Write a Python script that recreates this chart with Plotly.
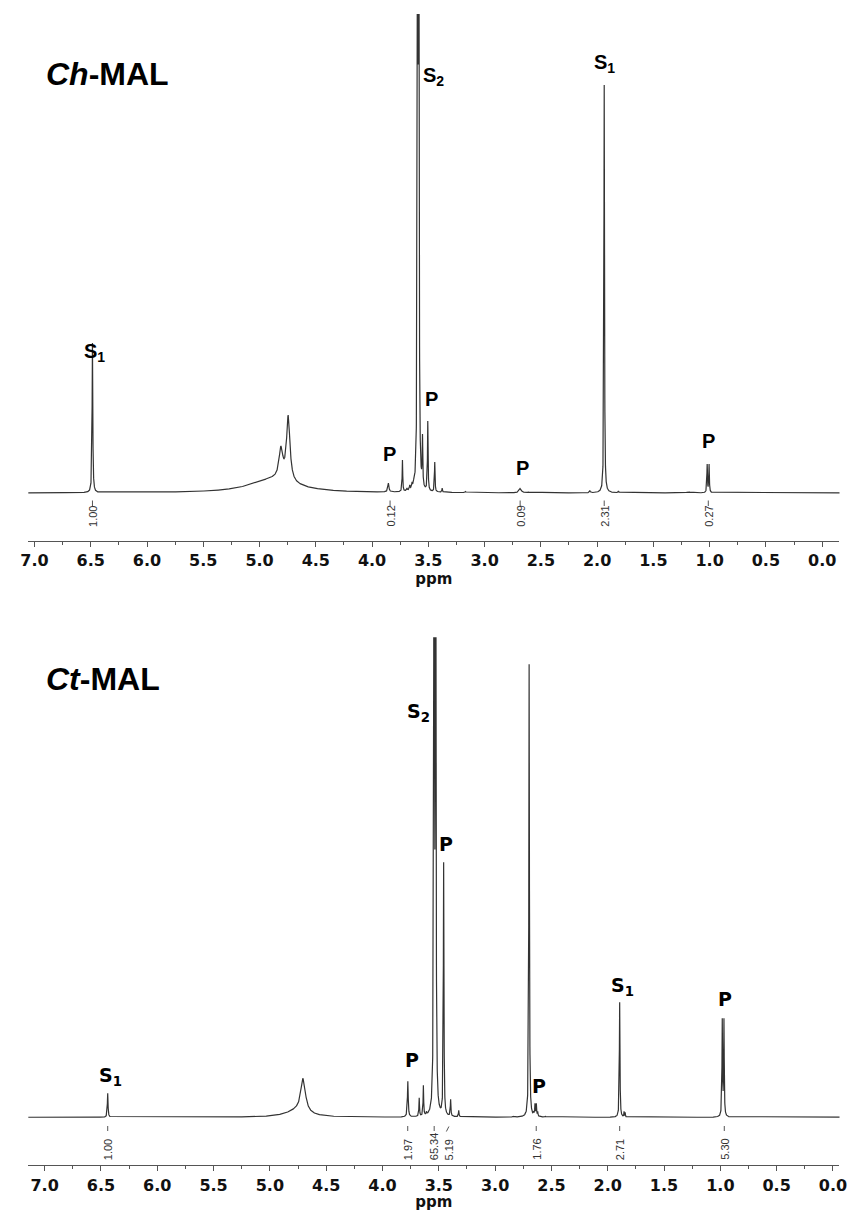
import numpy as np
import plotly.graph_objects as go

# ---------------- data ----------------
# Ch-MAL spectrum: peak positions (ppm), apex heights (arb.), half-widths (ppm)
ch_ppm = [6.485, 4.88, 4.81, 4.745, 3.855, 3.73, 3.69, 3.665, 3.645, 3.63,
          3.595, 3.585, 3.552, 3.505, 3.443, 3.377, 3.17, 2.684, 2.61, 2.065,
          1.937, 1.81, 1.24, 1.18, 1.022, 1.005]
ch_height = [150, 17, 47, 78, 10, 33, 5, 8, 11, 14,
             900, 850, 59, 72, 31, 5, 1.5, 4.5, 1, 2.5,
             408, 2, 1, 1, 29, 29]
ch_width = [0.0035, 0.25, 0.02, 0.018, 0.006, 0.003, 0.004, 0.004, 0.004, 0.004,
            0.003, 0.003, 0.003, 0.003, 0.003, 0.003, 0.005, 0.012, 0.008, 0.004,
            0.003, 0.004, 0.02, 0.02, 0.003, 0.003]

# Ct-MAL spectrum
ct_ppm = [6.44, 4.76, 4.705, 3.775, 3.674, 3.637, 3.61, 3.542, 3.528, 3.457,
          3.395, 3.323, 2.84, 2.698, 2.658, 2.646, 2.634, 2.622, 2.553, 1.894,
          1.855, 1.845, 0.983, 0.968]
ct_height = [24, 12, 39, 36, 19.6, 32, 6, 900, 900, 255,
             18, 7, 1, 453, 6, 14, 14, 6, 1, 115,
             6, 5, 99, 99]
ct_width = [0.0035, 0.12, 0.025, 0.004, 0.003, 0.003, 0.003, 0.003, 0.003, 0.003,
            0.003, 0.003, 0.005, 0.003, 0.003, 0.003, 0.003, 0.003, 0.005, 0.003,
            0.002, 0.002, 0.003, 0.003]

# integration labels (position ppm, value text)
ch_int_ppm = [6.485, 3.84, 2.684, 1.937, 1.012]
ch_int_txt = ["1.00", "0.12", "0.09", "2.31", "0.27"]
ct_int_ppm = [6.44, 3.776, 3.541, 3.41, 2.635, 1.894, 0.965]
ct_int_txt = ["1.00", "1.97", "65.34", "5.19", "1.76", "2.71", "5.30"]

# peak assignment labels
ch_labels = ["S<sub>1</sub>", "S<sub>2</sub>", "S<sub>1</sub>", "P", "P", "P", "P"]
ct_labels = ["S<sub>1</sub>", "S<sub>2</sub>", "S<sub>1</sub>", "P", "P", "P", "P"]

panel_titles = ["<b><i>Ch</i>-MAL</b>", "<b><i>Ct</i>-MAL</b>"]
tick_vals = [7.0, 6.5, 6.0, 5.5, 5.0, 4.5, 4.0, 3.5, 3.0, 2.5, 2.0, 1.5, 1.0, 0.5, 0.0]


# ---------------- spectrum construction ----------------
def build_spectrum(pos, hgt, wid):
    pos = np.asarray(pos, float)
    hgt = np.asarray(hgt, float)
    wid = np.asarray(wid, float)
    # amplitudes such that the summed curve reaches the read apex heights
    d = pos[:, None] - pos[None, :]
    M = wid[None, :] ** 2 / (wid[None, :] ** 2 + d ** 2)
    amp = np.clip(np.linalg.solve(M, hgt), 0, None)
    grid = np.unique(np.concatenate([np.arange(-0.25, 7.25, 0.0005), pos]))
    dg = grid[:, None] - pos[None, :]
    y = (amp[None, :] * wid[None, :] ** 2 / (wid[None, :] ** 2 + dg ** 2)).sum(axis=1)
    return grid, y


x1, y1 = build_spectrum(ch_ppm, ch_height, ch_width)
x2, y2 = build_spectrum(ct_ppm, ct_height, ct_width)

W, H = 858, 1211


def px(v):
    return v / W


def py(v):
    return 1 - v / H


line_col = "#333333"
fig = go.Figure()
fig.add_trace(go.Scatter(x=x1, y=y1, mode="lines", line=dict(color=line_col, width=1.2),
                         xaxis="x", yaxis="y", hoverinfo="skip", showlegend=False))
fig.add_trace(go.Scatter(x=x2, y=y2, mode="lines", line=dict(color=line_col, width=1.2),
                         xaxis="x2", yaxis="y2", hoverinfo="skip", showlegend=False))

xdom = [px(20.7), px(847.3)]
axis_common = dict(
    domain=xdom, showline=True, linecolor="#555555", linewidth=1,
    ticks="outside", ticklen=5, tickwidth=1, tickcolor="#555555",
    tickmode="array", tickvals=tick_vals, ticktext=[f"{v:.1f}" for v in tick_vals],
    tickfont=dict(family="DejaVu Sans", size=16, color="#111111", weight="bold"),
    minor=dict(ticks="outside", ticklen=2.5, tickcolor="#555555", tick0=0, dtick=0.25),
    showgrid=False, zeroline=False, fixedrange=True,
    title=dict(text="ppm", font=dict(family="DejaVu Sans", size=15, color="#111111", weight="bold"),
               standoff=2),
)

fig.update_layout(
    width=W, height=H, margin=dict(l=0, r=0, t=0, b=0),
    paper_bgcolor="white", plot_bgcolor="white", showlegend=False,
    xaxis=dict(anchor="y", range=[7.055, -0.154], **axis_common),
    xaxis2=dict(anchor="y2", range=[7.145, -0.058], **axis_common),
    yaxis=dict(domain=[py(541), py(14)], range=[-48, 479], visible=False, fixedrange=True),
    yaxis2=dict(domain=[py(1165.3), py(637.3)], range=[-48, 480], visible=False, fixedrange=True),
)

annotations = []
shapes = []

# panel titles
for txt, ycen in zip(panel_titles, [74, 679]):
    annotations.append(dict(text=txt, x=px(37), y=py(ycen), xref="paper", yref="paper",
                            xanchor="left", yanchor="middle", showarrow=False,
                            font=dict(family="Liberation Sans", size=32, color="#000000")))

# peak labels (pixel centres)
ch_lab_xy = [(88, 352), (434, 76), (608, 64), (389, 454), (431.5, 399), (524, 468), (714, 441)]
ct_lab_xy = [(104, 1076), (418, 712), (626, 986), (412, 1060), (446, 844), (541, 1086), (731, 999)]
for lab, (lx, ly) in zip(ch_labels, ch_lab_xy):
    annotations.append(dict(text=f"<b>{lab}</b>", x=px(lx), y=py(ly), xref="paper", yref="paper",
                            xanchor="center", yanchor="middle", showarrow=False,
                            font=dict(family="Liberation Sans", size=20, color="#000000")))
for lab, (lx, ly) in zip(ct_labels, ct_lab_xy):
    annotations.append(dict(text=f"<b>{lab}</b>", x=px(lx), y=py(ly), xref="paper", yref="paper",
                            xanchor="center", yanchor="middle", showarrow=False,
                            font=dict(family="DejaVu Sans", size=19, color="#000000")))

# integration labels
int_font = dict(family="Liberation Sans", size=11, color="#333333")
for xs, txts, xref, ybot, tick_top, tick_bot in [
        (ch_int_ppm, ch_int_txt, "x", 529, 500.5, 506),
        (ct_int_ppm, ct_int_txt, "x2", 1162, 1126, 1131)]:
    for xv, t in zip(xs, txts):
        annotations.append(dict(text=t, x=xv, y=py(ybot), xref=xref, yref="paper",
                                xanchor="center", yanchor="bottom", textangle=-90,
                                showarrow=False, font=int_font))
        if t == "5.19":
            continue
        shapes.append(dict(type="line", xref=xref, yref="paper", x0=xv, x1=xv,
                           y0=py(tick_top), y1=py(tick_bot), line=dict(color="#555555", width=1)))
# slanted tick for 5.19
shapes.append(dict(type="line", xref="paper", yref="paper", x0=px(446.7), x1=px(449.3),
                   y0=py(1131.5), y1=py(1126.5), line=dict(color="#555555", width=1)))

fig.update_layout(annotations=annotations, shapes=shapes)
fig.write_html(
    "out.html",
    config={"displayModeBar": False},
    post_script="document.body.style.margin='0';document.body.style.padding='0';"
                "document.documentElement.style.overflow='hidden';",
)
